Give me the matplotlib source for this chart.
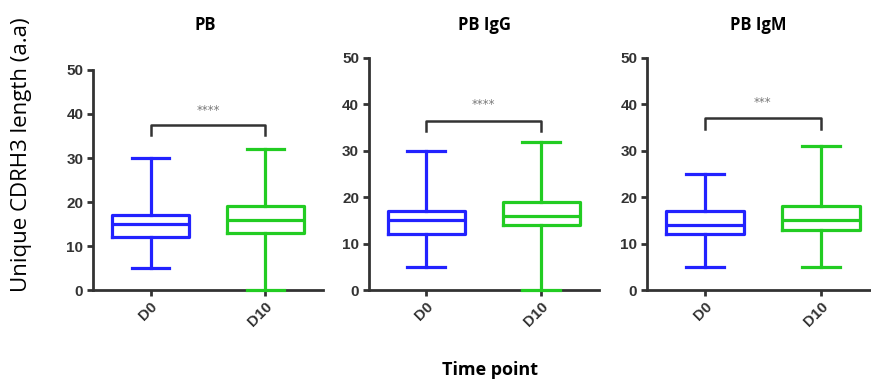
import matplotlib
matplotlib.use("Agg")
import matplotlib.pyplot as plt
from matplotlib import font_manager

# box statistics: (whisker low, q1, median, q3, whisker high)
titles = ["PB", "PB IgG", "PB IgM"]
groups = ["D0", "D10"]
whislo = [[5, 0], [5, 0], [5, 5]]
q1 = [[12, 13], [12, 14], [12, 13]]
med = [[15, 16], [15, 16], [14, 15]]
q3 = [[17, 19], [17, 19], [17, 18]]
whishi = [[30, 32], [30, 32], [25, 31]]
stars = ["****", "****", "***"]
bracket_y = [37.5, 36.5, 37]

colors = ["#2222ff", "#22cc22"]
axis_col = "#333333"

tick_font = font_manager.FontProperties(family="Liberation Sans", weight="bold", size=11)

fig = plt.figure(figsize=(8.71, 3.81), dpi=100)

# axes rectangles in figure fraction (left, bottom, width, height)
rects = [
    (0.1068, 0.2388, 0.264, 0.5775),
    (0.4235, 0.2388, 0.264, 0.609),
    (0.7428, 0.2388, 0.266, 0.609),
]

for i, title in enumerate(titles):
    ax = fig.add_axes(rects[i])
    stats = []
    for j, g in enumerate(groups):
        stats.append(dict(label=g, whislo=whislo[i][j], q1=q1[i][j], med=med[i][j],
                          q3=q3[i][j], whishi=whishi[i][j], fliers=[]))
    bp = ax.bxp(stats, positions=[0, 1], widths=0.67, capwidths=0.33,
                showfliers=False)
    for j in range(2):
        c = colors[j]
        bp["boxes"][j].set(color=c, linewidth=2.3)
        bp["medians"][j].set(color=c, linewidth=2.3)
        for k in (2 * j, 2 * j + 1):
            bp["whiskers"][k].set(color=c, linewidth=2.3)
            bp["caps"][k].set(color=c, linewidth=2.3, zorder=4, clip_on=False)

    # significance bracket
    by = bracket_y[i]
    ax.plot([0, 0, 1, 1], [by - 2.3, by, by, by - 2.3], color="#333333", lw=1.8,
            clip_on=False)
    ax.text(0.5, by + 3.4, stars[i], ha="center", va="center", fontsize=8.5,
            color="#777777", family="DejaVu Sans")

    ax.set_xlim(-0.5, 1.5)
    ax.set_ylim(0, 50)
    ax.set_yticks([0, 10, 20, 30, 40, 50])
    ax.set_yticklabels(["0", "10", "20", "30", "40", "50"], fontproperties=tick_font,
                       color="#1a1a1a")
    ax.set_xticks([0, 1])
    ax.set_xticklabels(groups, rotation=45, ha="right", rotation_mode="anchor",
                       fontproperties=tick_font, color="#1a1a1a")
    for s in ("top", "right"):
        ax.spines[s].set_visible(False)
    for s in ("left", "bottom"):
        ax.spines[s].set_color(axis_col)
        ax.spines[s].set_linewidth(2)
    ax.tick_params(axis="both", colors=axis_col, width=2, length=4,
                   direction="out")
    ax.tick_params(axis="y", pad=3)
    ax.tick_params(axis="x", pad=3)

title_x = [205, 485, 758]
for t, x in zip(titles, title_x):
    fig.text(x / 871, 1 - 25 / 381, t, ha="center", va="center", fontsize=12,
             fontweight="bold", family="Open Sans")

fig.text(0.025, 0.595, "Unique CDRH3 length (a.a)", rotation=90, ha="center",
         va="center", fontsize=16, family="Open Sans")
fig.text(0.5626, 0.029, "Time point", ha="center", va="center", fontsize=13,
         fontweight="bold", family="Open Sans")

fig.savefig("out.png", dpi=100)
